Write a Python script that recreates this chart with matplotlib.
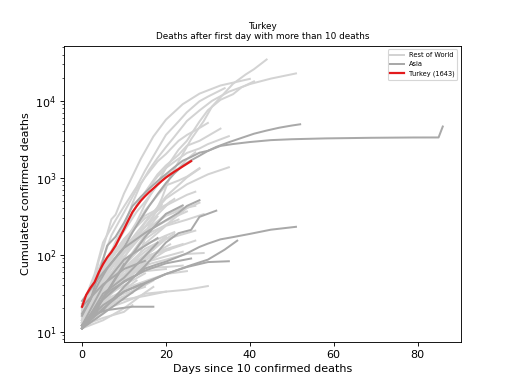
import matplotlib
matplotlib.use("Agg")
import matplotlib.pyplot as plt

# ---------------- data (day, cumulated deaths) ----------------
# Highlighted country
turkey_days = list(range(27))
turkey_deaths = [21, 30, 37, 44, 59, 75, 92, 108, 131, 168, 214, 277, 356, 425,
                 501, 574, 649, 725, 812, 908, 1006, 1101, 1198, 1296, 1403, 1518, 1643]

# Rest of World series: (days, deaths)
us = ([0, 3, 6, 9, 11, 14, 16, 19, 21, 24, 26, 29, 31, 34, 36, 39, 41, 44],
      [11, 17, 28, 41, 63, 108, 244, 535, 1031, 2026, 3170, 5443, 8452, 12722, 16686, 22020, 25832, 34500])
italy = ([0, 2, 4, 6, 8, 10, 12, 14, 16, 18, 20, 22, 25, 28, 31, 35, 40, 45, 51],
         [12, 17, 34, 79, 148, 233, 463, 827, 1266, 1809, 2503, 3405, 5476, 7503, 10023, 13155, 16523, 19468, 22745])
spain = ([0, 2, 4, 5, 7, 8, 10, 12, 14, 17, 20, 24, 28, 33, 40],
         [17, 28, 84, 121, 288, 331, 623, 1043, 1756, 3434, 5690, 9053, 12418, 15843, 19315])
france = ([0, 2, 4, 6, 8, 11, 13, 15, 18, 20, 23, 25, 28, 30, 33, 36, 38, 41],
          [16, 25, 33, 61, 91, 175, 264, 450, 860, 1331, 2314, 3024, 5387, 7560, 10328, 12210, 14967, 17920])
uk = ([0, 3, 5, 8, 10, 13, 15, 18, 20, 23, 25, 28, 30, 34],
      [21, 56, 144, 281, 423, 759, 1231, 2357, 3611, 5383, 7111, 9875, 11347, 14607])
germany = ([0, 2, 5, 8, 10, 13, 15, 18, 20, 23, 25, 28, 30, 33],
           [12, 24, 67, 126, 206, 434, 645, 1107, 1444, 1983, 2607, 3022, 3495, 4352])
belgium = ([0, 2, 5, 7, 10, 13, 15, 18, 20, 23, 25, 28, 30],
           [14, 37, 88, 178, 353, 705, 1011, 1632, 2035, 3019, 3600, 4440, 5163])
netherlands = ([0, 2, 5, 7, 10, 13, 15, 18, 20, 23, 25, 28, 30, 35],
               [12, 20, 58, 106, 213, 434, 639, 1039, 1339, 1766, 2101, 2403, 2737, 3471])
brazil = ([0, 3, 5, 8, 10, 13, 15, 18, 20, 23, 25, 27],
          [18, 46, 77, 136, 201, 359, 486, 800, 1057, 1328, 1736, 2141])
switzerland = ([0, 5, 10, 15, 20, 25, 30, 35], [13, 33, 120, 264, 536, 821, 1106, 1368])
sweden = ([0, 3, 5, 8, 10, 13, 15, 18, 20, 23, 25, 28],
          [16, 25, 62, 105, 146, 239, 373, 591, 793, 919, 1033, 1333])
canada = ([0, 5, 10, 15, 20, 25, 28], [12, 35, 89, 258, 569, 1010, 1310])
portugal = ([0, 5, 10, 15, 20, 25, 27], [12, 60, 160, 295, 435, 599, 657])
ireland = ([0, 5, 10, 15, 20, 22], [19, 71, 158, 320, 444, 530])
mexico = ([0, 4, 8, 13, 18, 21], [16, 37, 79, 174, 332, 486])
ecuador = ([0, 5, 10, 15, 20, 25, 28], [14, 34, 75, 180, 242, 403, 474])
austria = ([0, 5, 10, 15, 20, 25, 27], [16, 49, 128, 204, 319, 410, 431])
romania = ([0, 4, 8, 12, 16, 20, 24], [11, 40, 82, 146, 220, 336, 411])
denmark = ([0, 5, 10, 15, 20, 25, 29], [13, 32, 72, 139, 237, 285, 336])
algeria = ([0, 5, 10, 15, 20, 25], [17, 35, 105, 193, 275, 364])
russia = ([0, 5, 10, 15, 18], [17, 43, 94, 198, 313])
poland = ([0, 5, 10, 15, 20, 23], [14, 33, 79, 159, 245, 286])
dominican = ([0, 5, 10, 15, 20, 22], [20, 42, 86, 135, 177, 196])
egypt = ([0, 5, 10, 15, 20, 27], [14, 24, 46, 94, 159, 205])
peru = ([0, 5, 10, 15, 19], [18, 61, 121, 230, 445])
czechia = ([0, 5, 10, 15, 20, 22], [11, 31, 67, 119, 161, 186])
norway = ([0, 5, 10, 15, 20, 27], [11, 26, 44, 76, 113, 152])
hungary = ([0, 5, 10, 15, 20], [11, 26, 66, 109, 172])
morocco = ([0, 5, 10, 15, 20, 24], [23, 36, 70, 93, 118, 137])
greece = ([0, 5, 10, 15, 20, 25, 29], [13, 26, 49, 73, 86, 102, 105])
argentina = ([0, 5, 10, 15, 21], [13, 28, 60, 89, 136])
colombia = ([0, 5, 10, 15, 20], [11, 25, 54, 100, 166])
chile = ([0, 5, 10, 17], [12, 34, 65, 116])
panama = ([0, 5, 10, 15, 20, 24], [11, 24, 55, 79, 95, 109])
serbia = ([0, 5, 10, 15, 21], [11, 28, 65, 94, 117])
finland = ([0, 5, 10, 16], [11, 27, 49, 75])
ukraine = ([0, 5, 10, 15, 19], [11, 25, 45, 83, 116])
luxembourg = ([0, 5, 10, 15, 20, 24], [15, 31, 52, 67, 69, 72])
slovenia = ([0, 5, 10, 15, 20, 25], [11, 20, 36, 45, 56, 61])
bosnia = ([0, 5, 10, 15, 17], [13, 21, 35, 40, 46])
san_marino = ([0, 3, 6, 10, 15, 20, 25, 30], [11, 14, 20, 24, 31, 33, 35, 39])
australia = ([0, 5, 10, 15, 20], [13, 24, 45, 61, 65])
croatia = ([0, 5, 10, 13], [12, 21, 33, 39])
south_africa = ([0, 5, 10, 12], [11, 25, 34, 50])
andorra = ([0, 5, 10, 15, 20], [12, 22, 26, 29, 33])
bulgaria = ([0, 5, 10, 15, 17], [11, 14, 20, 32, 38])
tunisia = ([0, 5, 10, 13], [11, 19, 28, 37])
honduras = ([0, 5, 10, 13], [14, 22, 35, 46])
lithuania = ([0, 4, 8, 12], [11, 17, 26, 32])
estonia = ([0, 5, 10, 15], [11, 24, 31, 38])
belarus = ([0, 3, 6], [13, 23, 40])
cameroon = ([0, 5, 10, 12], [12, 15, 18, 22])
moldova = ([0, 5, 10, 15], [14, 27, 40, 57])

rest_of_world = [us, italy, spain, france, uk, germany, belgium, netherlands, brazil,
                 switzerland, sweden, canada, portugal, ireland, mexico, ecuador, austria,
                 romania, denmark, algeria, russia, poland, dominican, egypt, peru, czechia,
                 norway, hungary, morocco, greece, argentina, colombia, chile, panama, serbia,
                 finland, ukraine, luxembourg, slovenia, bosnia, san_marino, australia,
                 croatia, south_africa, andorra, bulgaria, tunisia, honduras, lithuania,
                 estonia, belarus, cameroon, moldova]

# Asia series
china = ([0, 2, 4, 6, 8, 10, 12, 14, 16, 18, 20, 22, 24, 26, 28, 30, 33, 36, 40, 45, 50, 58, 69, 79, 85, 86],
         [17, 26, 56, 131, 171, 259, 425, 563, 718, 905, 1112, 1369, 1663, 1864, 2116, 2238, 2595, 2746,
          2914, 3085, 3169, 3249, 3309, 3339, 3342, 4636])
iran = ([0, 2, 4, 6, 8, 10, 12, 14, 16, 18, 20, 22, 24, 26, 28, 30, 32, 35, 38, 41, 44, 47, 50, 52],
        [16, 26, 43, 66, 92, 124, 194, 291, 429, 611, 853, 1135, 1433, 1685, 1934, 2234, 2517, 2898,
         3294, 3739, 4110, 4474, 4777, 4958])
korea = ([0, 3, 5, 7, 10, 13, 15, 18, 20, 23, 25, 28, 30, 33, 36, 40, 45, 51],
         [12, 16, 28, 35, 44, 54, 66, 75, 81, 94, 104, 126, 139, 158, 169, 186, 211, 230])
japan = ([0, 5, 10, 15, 20, 26, 30, 34, 37], [12, 22, 33, 43, 56, 73, 86, 116, 152])
indonesia = ([0, 5, 10, 15, 20, 23, 25, 28], [25, 58, 122, 191, 280, 350, 430, 510])
philippines = ([0, 5, 10, 15, 20, 23, 26, 28, 32], [12, 19, 38, 71, 144, 190, 210, 310, 373])
india = ([0, 5, 10, 15, 20, 24], [11, 27, 72, 169, 339, 437])
pakistan = ([0, 5, 10, 15, 18], [11, 31, 50, 96, 143])
malaysia = ([0, 5, 10, 15, 20, 26], [11, 26, 45, 62, 77, 89])
iraq = ([0, 5, 10, 15, 20, 25, 30, 35], [11, 17, 27, 42, 56, 69, 80, 82])
saudi = ([0, 5, 10, 15], [21, 41, 65, 83])
israel = ([0, 5, 10, 15, 18], [12, 39, 86, 130, 164])
bangladesh = ([0, 5, 10], [12, 27, 75])
lebanon = ([0, 3, 6, 9, 12, 17], [11, 17, 19, 20, 21, 21])
uae = ([0, 5, 10, 14], [11, 20, 33, 41])

asia = [china, iran, korea, japan, indonesia, philippines, india, pakistan, malaysia,
        iraq, saudi, israel, bangladesh, lebanon, uae]

# ---------------- plot ----------------
fig, ax = plt.subplots(figsize=(6.4, 4.8), dpi=80)

for i, (d, v) in enumerate(rest_of_world):
    ax.plot(d, v, color="#d3d3d3", lw=1.8, label="Rest of World" if i == 0 else None, zorder=1)
for i, (d, v) in enumerate(asia):
    ax.plot(d, v, color="#a9a9a9", lw=1.8, label="Asia" if i == 0 else None, zorder=2)
ax.plot(turkey_days, turkey_deaths, color="#e31a1c", lw=2.0,
        label="Turkey ({})".format(turkey_deaths[-1]), zorder=3)

ax.set_yscale("log")
ax.set_title("Turkey\nDeaths after first day with more than 10 deaths", fontsize=8)
ax.set_xlabel("Days since 10 confirmed deaths")
ax.set_ylabel("Cumulated confirmed deaths")
ax.legend(loc="upper right", fontsize=6)

fig.savefig("out.png", dpi=80)
